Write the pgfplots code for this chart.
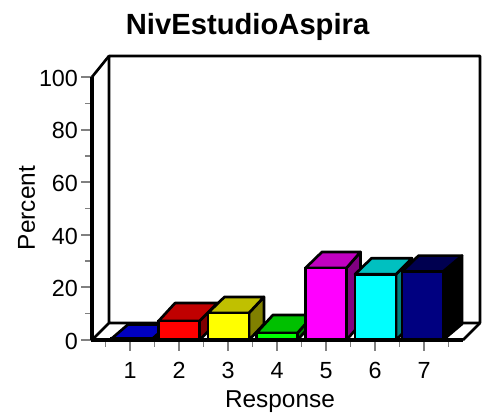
\documentclass[border=0pt]{standalone}
\usepackage{pgfplots}
\pgfplotsset{compat=1.18}
\usepackage{fontspec}
\setmainfont{Liberation Sans}
\definecolor{cblue}{HTML}{0000FF}\definecolor{tblue}{HTML}{0000C0}\definecolor{sblue}{HTML}{000080}
\definecolor{cred}{HTML}{FF0000}\definecolor{tred}{HTML}{C00000}\definecolor{sred}{HTML}{800000}
\definecolor{cyel}{HTML}{FFFF00}\definecolor{tyel}{HTML}{C0C000}\definecolor{syel}{HTML}{808000}
\definecolor{cgre}{HTML}{00FF00}\definecolor{tgre}{HTML}{00C000}\definecolor{sgre}{HTML}{008000}
\definecolor{cmag}{HTML}{FF00FF}\definecolor{tmag}{HTML}{C000C0}\definecolor{smag}{HTML}{800080}
\definecolor{ccya}{HTML}{00FFFF}\definecolor{tcya}{HTML}{00C0C0}\definecolor{scya}{HTML}{008080}
\definecolor{cnav}{HTML}{000080}\definecolor{tnav}{HTML}{000050}\definecolor{snav}{HTML}{000000}
\newcommand{\pxu}{0.75pt}
% #1 x centre, #2 value, #3 colour suffix, #4 depth in y, #5 depth in x at the right edge
\newcommand{\threeDbar}[5]{%
  \pgfmathsetmacro{\xa}{#1-0.418}\pgfmathsetmacro{\xb}{#1+0.418}%
  \pgfmathsetmacro{\xc}{#1-0.418+0.337}\pgfmathsetmacro{\xd}{#1+0.418+#5}%
  \pgfmathsetmacro{\yt}{#2+#4}%
  \addplot[fill=s#3,draw=black,line width=2pt,line join=round] coordinates {(\xb,0) (\xb,#2) (\xd,\yt) (\xd,#4)} -- cycle;
  \addplot[fill=t#3,draw=black,line width=2pt,line join=round] coordinates {(\xa,#2) (\xb,#2) (\xd,\yt) (\xc,\yt)} -- cycle;
  \addplot[ybar,bar width=0.837,bar shift=0pt,fill=c#3,draw=black,line width=2pt] coordinates {(#1,#2)};
}
\begin{document}
\begin{tikzpicture}[x=\pxu,y=\pxu]
\useasboundingbox (-92,-72) rectangle (396,340);
\begin{axis}[
  at={(0,0)},anchor=south west,
  scale only axis,width=291pt,height=213pt,
  xmin=0.2245,xmax=8.1429,ymin=0,ymax=107.98,
  clip=false,
  axis line style={draw=none},
  axis x line*=bottom,axis y line*=left,
  xtick={1,2,3,4,5,6,7},
  minor xtick={0.5,1.5,2.5,3.5,4.5,5.5,6.5,7.5},
  ytick={0,20,40,60,80,100},
  minor ytick={10,30,50,70,90},
  tick align=outside,
  major tick length=8pt,minor tick length=5pt,
  tick style={gray,line width=1.5pt},
  minor tick style={gray,line width=1.1pt},
  /pgf/number format/assume math mode=true,
  tick label style={font=\fontsize{17.5}{20}\selectfont},
  xticklabel style={yshift=-5pt},
  yticklabel style={xshift=1pt,yshift=-1pt},
  xlabel={Response},ylabel={Percent},
  every axis x label/.style={at={(axis cs:4.06,-23.4)},anchor=center,font=\fontsize{18.3}{20}\selectfont},
  every axis y label/.style={at={(axis cs:-1.11,50.2)},anchor=center,rotate=90,font=\fontsize{18.3}{20}\selectfont},
  title={NivEstudioAspira},
  every axis title/.style={at={(axis cs:3.4,119.0)},anchor=center,font=\fontsize{21.9}{24}\selectfont\bfseries},
]
% back wall
\addplot[draw=black,line width=2pt,line join=round] coordinates {(0.2245,0) (0.571,6.46) (0.571,107.98) (8.1429,107.98) (8.1429,6.46) (0.571,6.46)};
\addplot[draw=black,line width=2pt] coordinates {(7.796,0) (8.1429,6.46)};
\addplot[draw=black,line width=2pt] coordinates {(0.2245,100) (0.571,107.98)};
\threeDbar{1.04}{0.5}{blue}{5.4}{0.327}
\threeDbar{2}{7.2}{red}{6.84}{0.367}
\threeDbar{3.01}{10.3}{yel}{6.08}{0.306}
\threeDbar{4}{2.7}{gre}{6.84}{0.327}
\threeDbar{5}{27.4}{mag}{6.08}{0.286}
\threeDbar{6.01}{25}{cya}{6.08}{0.327}
\threeDbar{6.97}{26}{nav}{6.08}{0.388}
% front axes
\addplot[draw=black,line width=3pt] coordinates {(0.2245,0) (0.2245,100)};
\addplot[draw=black,line width=2.4pt] coordinates {(0.2,0) (7.796,0)};
\end{axis}
\end{tikzpicture}
\end{document}
